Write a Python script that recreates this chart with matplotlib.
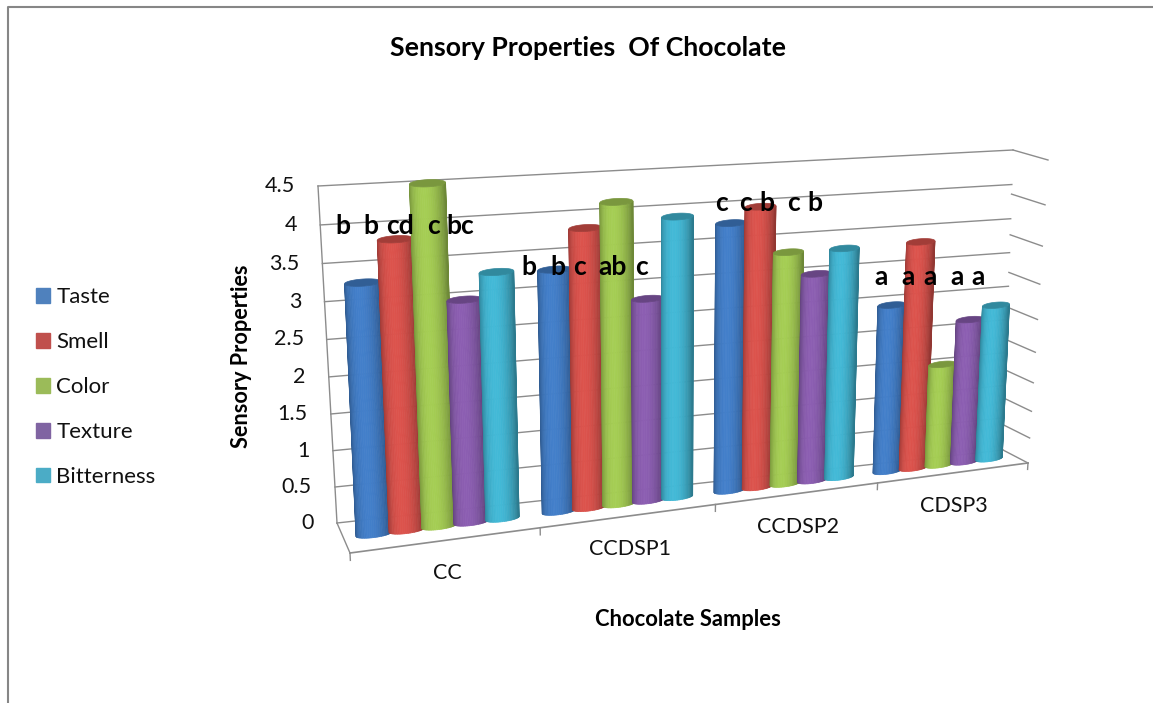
import numpy as np
import matplotlib
matplotlib.use("Agg")
import matplotlib.pyplot as plt
from matplotlib.lines import Line2D
from matplotlib.patches import Patch
from matplotlib.transforms import Transform

plt.rcParams["font.family"] = ["Lato", "DejaVu Sans"]

SAMPLES = ["CC", "CCDSP1", "CCDSP2", "CDSP3"]
SERIES = ["Taste", "Smell", "Color", "Texture", "Bitterness"]
COLOR = ["#3F78BF", "#D04E48", "#9CC24F", "#8459A8", "#3FAFCB"]
LEGEND_COLOR = ["#4F81BD", "#C0504D", "#9BBB59", "#8064A2", "#4BACC6"]
TICKS = [0, 0.5, 1, 1.5, 2, 2.5, 3, 3.5, 4, 4.5]

taste = [3.30, 3.30, 3.77, 2.46]
smell = [3.82, 3.82, 3.97, 3.34]
color = [4.50, 4.14, 3.32, 1.52]
texture = [2.99, 2.82, 2.99, 2.15]
bitterness = [3.32, 3.90, 3.32, 2.33]
VALUES = [taste, smell, color, texture, bitterness]

# letters over the bars, typed by hand in the original
LETTERS = [["b", "b", "cd", "c", "bc"],
           ["b", "b", "c", "ab", "c"],
           ["c", "c", "b", "c", "b"],
           ["a", "a", "a", "a", "a"]]
LETTER_X = [[343, 371, 400, 434, 460],
            [529, 558, 579, 613, 641],
            [721, 746, 767, 793, 815],
            [881, 908, 930, 957, 978]]
LETTER_Y = [226, 267, 203, 277]


class Perspective(Transform):
    """maps a unit rectangle of the chart onto a quad of pixels"""
    input_dims = 2
    output_dims = 2
    is_separable = False

    def __init__(self, src, dst):
        super().__init__()
        a, b = [], []
        for (x, y), (X, Y) in zip(src, dst):
            a.append([x, y, 1, 0, 0, 0, -x * X, -y * X])
            a.append([0, 0, 0, x, y, 1, -x * Y, -y * Y])
            b += [X, Y]
        self.h = np.append(np.linalg.solve(np.array(a, float), np.array(b, float)), 1).reshape(3, 3)

    def transform_non_affine(self, values):
        pts = np.column_stack([values, np.ones(len(values))]) @ self.h.T
        return pts[:, :2] / pts[:, 2:]


fig = plt.figure(figsize=(11.53, 7.03), dpi=100)
ax = fig.add_axes([0, 0, 1, 1])
ax.set_xlim(0, 1153)
ax.set_ylim(703, 0)
ax.axis("off")

n = len(SAMPLES)
top = TICKS[-1]
corners = [(0, 0), (n, 0), (0, top), (n, top)]
depth = [(0, 0), (1, 0), (0, top), (1, top)]
back = Perspective(corners, [(337, 523), (1003, 450), (318, 186), (1013, 150)]) + ax.transData
bars = Perspective(corners, [(343.5, 538), (1011.5, 456), (327, 188), (1026, 155)]) + ax.transData
front = Perspective(corners, [(350, 553), (1028, 463), (333, 201), (1048, 160)]) + ax.transData
side = Perspective(depth, [(1003, 450), (1028, 463), (1013, 150), (1048, 160)]) + ax.transData
left = Perspective(depth, [(337, 523), (350, 553), (318, 186), (333, 201)]) + ax.transData

GRID = "#8C8C8C"
for v in TICKS:
    ax.plot([0, n], [v, v], c=GRID, lw=1, transform=back, zorder=1)
    ax.plot([0, 1], [v, v], c=GRID, lw=1, transform=side, zorder=1)
    ax.annotate(str(v), xy=(0, v), xycoords=back, xytext=(-23, 0), textcoords="offset pixels",
                ha="right", va="center", fontsize=15.5, color="#111111")
ax.plot([0, 0], [0, top], c=GRID, lw=1, transform=back, zorder=1)
ax.plot([0, 1], [0, 0], c=GRID, lw=1, transform=left, zorder=1)
ax.plot([0, n], [0, 0], c=GRID, lw=1.2, transform=front, zorder=1)
for k in range(n + 1):
    ax.plot([k, k], [0, -0.1], c=GRID, lw=1, transform=front, zorder=1)

# cylinders, built of thin strips so the shading goes round them
STEP = 0.172
R = 0.092
E = 0.045
angles = np.linspace(-np.pi / 2, np.pi / 2, 29)
z = 3
for k in range(n):
    for i, vals in enumerate(VALUES):
        c = k + 0.5 + (i - 2) * STEP
        rgb = np.array(matplotlib.colors.to_rgb(COLOR[i]))
        v = vals[k]
        for t0, t1 in zip(angles[:-1], angles[1:]):
            tm = (t0 + t1) / 2
            s = 0.70 + 0.36 * max(np.cos(tm + 0.2), 0) ** 1.5
            col = np.clip(rgb * s, 0, 1)
            us = [c + R * np.sin(t0), c + R * np.sin(t1), c + R * np.sin(t1), c + R * np.sin(t0)]
            vs = [v - E * np.cos(t0), v - E * np.cos(t1), -E * np.cos(t1), -E * np.cos(t0)]
            ax.fill(us, vs, color=col, lw=0.5, transform=bars, zorder=z)
        tt = np.linspace(0, 2 * np.pi, 40)
        ax.fill(c + R * np.sin(tt), v + E * np.cos(tt), color=rgb * 0.78, lw=0.5, transform=bars, zorder=z + 0.5)
        z += 1

for k, name in enumerate(SAMPLES):
    ax.annotate(name, xy=(k + 0.5, 0), xycoords=front, xytext=(0, -33), textcoords="offset pixels",
                ha="center", va="center", fontsize=15.5, color="#111111")
    for letter, x in zip(LETTERS[k], LETTER_X[k]):
        ax.text(x, LETTER_Y[k], letter, ha="center", va="center", fontsize=19, fontweight="bold",
                color="black", zorder=100)

ax.text(588, 48, "Sensory Properties  Of Chocolate", ha="center", va="center",
        fontsize=19.2, fontweight="bold", color="black")
ax.text(688, 619, "Chocolate Samples", ha="center", va="center",
        fontsize=15.8, fontweight="bold", color="black")
ax.text(241, 356, "Sensory Properties", ha="center", va="center", rotation=90,
        fontsize=15.6, fontweight="bold", color="black")

handles = [Patch(color=c, label=s) for c, s in zip(LEGEND_COLOR, SERIES)]
leg = ax.legend(handles=handles, loc="center left", bbox_to_anchor=(36 / 1153, 1 - 387 / 703),
                frameon=False, fontsize=16, handlelength=0.65, handleheight=0.65, handletextpad=0.27,
                labelspacing=1.12, borderpad=0, borderaxespad=0, labelcolor="#111111")

fig.add_artist(Line2D([8, 8, 1153], [0, 696, 696], transform=None, c="#868686", lw=1.5))

plt.savefig("out.png", dpi=100)
